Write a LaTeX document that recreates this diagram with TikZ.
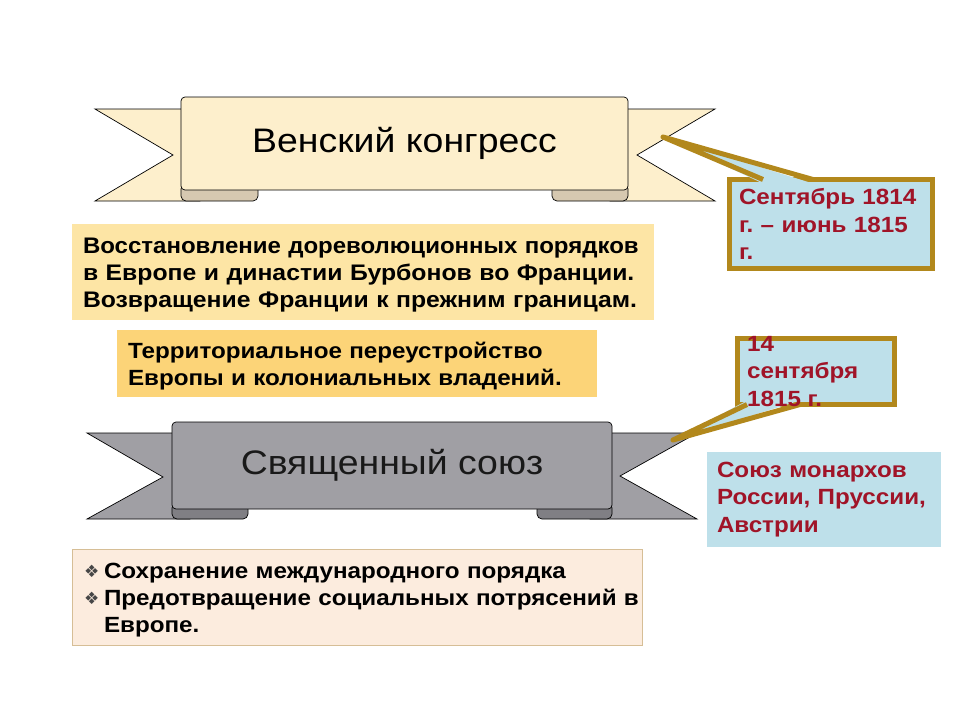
\documentclass[tikz,border=0pt]{standalone}
\usepackage{graphicx}
\usepackage{fontspec}
\setmainfont{Liberation Sans}[FakeStretch=1.1]
\newfontfamily\symfont{DejaVu Sans}
\usetikzlibrary{calc}
\frenchspacing
\definecolor{cream}{RGB}{253,239,204}
\definecolor{creamfold}{RGB}{214,200,176}
\definecolor{ribbongray}{RGB}{160,159,164}
\definecolor{grayfold}{RGB}{128,127,132}
\definecolor{sandA}{RGB}{253,229,165}
\definecolor{sandB}{RGB}{252,212,120}
\definecolor{peach}{RGB}{252,236,222}
\definecolor{peachline}{RGB}{214,190,150}
\definecolor{paleblue}{RGB}{190,224,234}
\definecolor{gold}{RGB}{178,136,28}
\definecolor{darkred}{RGB}{160,20,40}
\newcommand{\diabullet}{\makebox[20pt][l]{\raisebox{1pt}{\color[RGB]{70,70,70}\symfont\fontsize{17}{17}\selectfont ❖}}}
\tikzset{
  tail/.style={draw=black, line width=0.7pt},
  fold/.style={draw=black, line width=0.7pt, rounded corners=5pt},
  panel/.style={draw=black, line width=0.7pt, rounded corners=4pt, font=\fontsize{34}{40}\selectfont},
  infobox/.style={inner xsep=11pt, inner ysep=2pt, align=left, font=\bfseries\fontsize{22.5}{27}\selectfont, execute at begin node={\rule{0pt}{22pt}}},
  datebox/.style={draw=gold, line width=5pt, fill=paleblue, outer sep=0pt},
  datetext/.style={text=darkred, align=left, font=\bfseries\fontsize{22}{27.5}\selectfont},
  pointer/.style={draw=gold, line width=5pt, line join=round},
}
\begin{document}
\begin{tikzpicture}[x=1pt,y=-1pt]
\useasboundingbox[fill=white] (0,0) rectangle (960,720);
% Венский конгресс ribbon
\filldraw[tail, fill=cream] (95,109) -- (200,109) -- (200,201) -- (95,201) -- (173,155) -- cycle;
\filldraw[tail, fill=cream] (715,109) -- (610,109) -- (610,201) -- (715,201) -- (637,155) -- cycle;
\filldraw[fold, fill=creamfold] (181,184) rectangle (258,201);
\filldraw[fold, fill=creamfold] (552,184) rectangle (628,201);
\node[panel, fill=cream, minimum width=447pt, minimum height=93pt] (vienna) at (404.5,143.5) {Венский конгресс};
% Священный союз ribbon
\filldraw[tail, fill=ribbongray] (87,433) -- (190,433) -- (190,519) -- (87,519) -- (163,477) -- cycle;
\filldraw[tail, fill=ribbongray] (697,433) -- (590,433) -- (590,519) -- (697,519) -- (620,476) -- cycle;
\filldraw[fold, fill=grayfold] (172,503) rectangle (248,519);
\filldraw[fold, fill=grayfold] (537,503) rectangle (612,519);
\node[panel, fill=ribbongray, text={rgb,255:red,25;green,25;blue,25}, minimum width=440pt, minimum height=87pt] (holy) at (392,465.5) {Священный союз};
% text boxes
\node[infobox, fill=sandA, text width=560pt, minimum height=96pt] (restore) at (363,272) {\scalebox{0.97}[1]{Восстановление дореволюционных порядков}\\в Европе и династии Бурбонов во Франции.\\Возвращение Франции к прежним границам.};
\node[infobox, fill=sandB, font=\bfseries\fontsize{22}{27}\selectfont, text width=458pt, minimum height=67pt] (terr) at (357,363.5) {Территориальное переустройство\\Европы и колониальных владений.};
\node[infobox, draw=peachline, line width=0.8pt, fill=peach, font=\bfseries\fontsize{22}{27}\selectfont, inner xsep=12pt, text width=546pt, minimum height=96pt] (aims) at (357,597) {\diabullet Сохранение международного порядка\\\mbox{\diabullet Предотвращение социальных потрясений в}\\\hspace*{20pt}Европе.};
% dates
\node[datebox, datetext, inner xsep=9.5pt, inner ysep=0pt, text width=184pt, minimum height=89pt] (dates) at (831,224) {Сентябрь 1814\\г. – июнь 1815\\г.};
\node[datebox, minimum width=157pt, minimum height=66pt] (signed) at (816,371.5) {};
\node[datetext, fill=paleblue, inner xsep=10pt, inner ysep=0pt, text width=214pt, minimum height=95pt] (monarchs) at (824,499.5) {Союз монархов\\России, Пруссии,\\Австрии};
% callout pointers
\coordinate (tipA) at (663,137);
\coordinate (tipB) at (673,440);
\fill[paleblue] ($(dates.north west)+(33.5,4)$) -- (tipA) -- ($(dates.north west)+(83.5,4)$) -- cycle;
\draw[pointer] ($(dates.north west)+(33.5,0)$) -- (tipA) -- ($(dates.north west)+(83.5,0)$);
\fill[paleblue] ($(signed.south west)+(9.5,-4)$) -- (tipB) -- ($(signed.south west)+(62.5,-4)$) -- cycle;
\draw[pointer] ($(signed.south west)+(9.5,0)$) -- (tipB) -- ($(signed.south west)+(62.5,0)$);
\node[datetext, anchor=north west, inner sep=0pt] (signedtxt) at (747,336) {14\\сентября\\1815 г.};
\end{tikzpicture}
\end{document}
